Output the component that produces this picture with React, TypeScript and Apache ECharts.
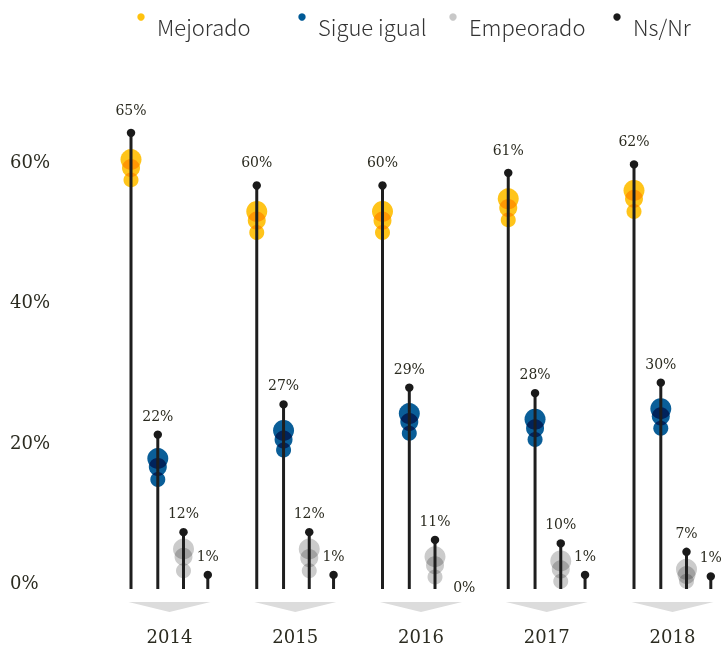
import React, { useEffect, useRef } from "react";
import * as echarts from "echarts";

const YEARS = ["2014", "2015", "2016", "2017", "2018"];
const CATEGORIES = ["Mejorado", "Sigue igual", "Empeorado", "Ns/Nr"];

// stem heights (% on the axis)
const MEJORADO = [65.0, 57.5, 57.5, 59.3, 60.5];
const SIGUE_IGUAL = [22.0, 26.3, 28.7, 27.9, 29.4];
const EMPEORADO = [8.1, 8.1, 7.0, 6.5, 5.3];
const NS_NR = [2.0, 2.0, 0, 2.0, 1.8];

// printed labels
const MEJORADO_LABELS = ["65%", "60%", "60%", "61%", "62%"];
const SIGUE_IGUAL_LABELS = ["22%", "27%", "29%", "28%", "30%"];
const EMPEORADO_LABELS = ["12%", "12%", "11%", "10%", "7%"];
const NS_NR_LABELS = ["1%", "1%", "0%", "1%", "1%"];

// bubble values (large, middle, small) per year
const MEJORADO_BUBBLES = [
  [61.2, 60.0, 58.3],
  [53.8, 52.5, 50.8],
  [53.8, 52.5, 50.8],
  [55.6, 54.3, 52.6],
  [56.8, 55.6, 53.8],
];
const SIGUE_IGUAL_BUBBLES = [
  [18.6, 17.4, 15.6],
  [22.6, 21.3, 19.8],
  [25.0, 23.8, 22.2],
  [24.2, 22.9, 21.3],
  [25.7, 24.6, 22.9],
];
const EMPEORADO_BUBBLES = [
  [5.7, 4.6, 2.6],
  [5.7, 4.4, 2.6],
  [4.6, 3.4, 1.7],
  [4.0, 2.8, 1.1],
  [2.8, 2.0, 1.1],
];
const NS_NR_BUBBLES = [[], [], [], [], []];

const Y_TICKS = [0, 20, 40, 60];

const STEMS = [MEJORADO, SIGUE_IGUAL, EMPEORADO, NS_NR];
const LABELS = [MEJORADO_LABELS, SIGUE_IGUAL_LABELS, EMPEORADO_LABELS, NS_NR_LABELS];
const BUBBLES = [MEJORADO_BUBBLES, SIGUE_IGUAL_BUBBLES, EMPEORADO_BUBBLES, NS_NR_BUBBLES];

const BUBBLE_COLORS = ["#ffc41a", "#0a5e98", "#cbcbcb", "#1a1a1a"];
const LEGEND_COLORS = ["#FFC20E", "#005A96", "#C8C8C8", "#1a1a1a"];
const OFFSETS = [-38.5, -11.7, 14, 38.3];
const LABEL_GAP = [23, 19, 19, 19];
const RADII = [10.5, 9, 7.5];
const SERIF = "'DejaVu Serif', serif";
const SANS = "'Noto Sans CJK JP', 'Noto Sans', sans-serif";
const TEXT_COLOR = "#2b2b20";

export default function App() {
  const ref = useRef<HTMLDivElement>(null);
  useEffect(() => {
    if (!ref.current) return;
    const el = ref.current;
    const chart = echarts.init(el, undefined, { renderer: "svg" });

    const legendX = [141, 302, 453, 617];
    const graphic: any[] = [];
    CATEGORIES.forEach((c, k) => {
      graphic.push({
        type: "circle",
        shape: { cx: legendX[k], cy: 17, r: 3.7 },
        style: { fill: LEGEND_COLORS[k] },
      });
      graphic.push({
        type: "text",
        x: legendX[k] + 16,
        y: 26,
        style: {
          text: c,
          fill: "#333",
          font: `300 22px ${SANS}`,
          verticalAlign: "middle",
          align: "left",
        },
      });
    });

    const option: any = {
      animation: false,
      backgroundColor: "#fff",
      grid: { left: 169.5, right: 48.5, top: 27.6, bottom: 55 },
      xAxis: {
        type: "category",
        data: YEARS,
        boundaryGap: false,
        axisLine: { show: false },
        axisTick: { show: false },
        splitLine: { show: false },
        axisLabel: {
          margin: 38,
          fontFamily: SERIF,
          fontSize: 18,
          color: TEXT_COLOR,
        },
      },
      yAxis: {
        type: "value",
        min: 0,
        max: 80,
        interval: 20,
        axisLine: { show: false },
        axisTick: { show: false },
        splitLine: { show: false },
        axisLabel: {
          align: "left",
          margin: 159.5,
          verticalAlign: "bottom",
          lineHeight: 13,
          fontFamily: SERIF,
          fontSize: 18,
          color: TEXT_COLOR,
          formatter: (v: number) => (Y_TICKS.includes(v) ? v + "%" : ""),
        },
      },
      graphic,
      series: [
        {
          type: "custom",
          clip: false,
          data: YEARS.map((y, i) => [i, 0]),
          renderItem: (params: any, api: any) => {
            const i = params.dataIndex;
            const base = api.coord([i, 0]);
            const cx = base[0];
            const y0 = base[1];
            const children: any[] = [];
            children.push({
              type: "polygon",
              shape: {
                points: [
                  [cx - 41, y0 + 13],
                  [cx + 41, y0 + 13],
                  [cx, y0 + 23],
                ],
              },
              style: { fill: "#dcdcdc" },
            });
            STEMS.forEach((arr, k) => {
              const v = arr[i];
              const sx = cx + OFFSETS[k];
              const top = api.coord([i, v])[1];
              const bubbles = BUBBLES[k][i];
              bubbles.forEach((bv: number, b: number) => {
                const by = api.coord([i, bv])[1];
                children.push({
                  type: "circle",
                  shape: { cx: sx, cy: by, r: RADII[b] },
                  style: { fill: BUBBLE_COLORS[k] },
                });
              });
              if (v > 0) {
                children.push({
                  type: "line",
                  shape: { x1: sx, y1: y0, x2: sx, y2: top },
                  style: { stroke: "#1e1e1e", lineWidth: 3 },
                });
                children.push({
                  type: "circle",
                  shape: { cx: sx, cy: top, r: 4.2 },
                  style: { fill: "#1a1a1a" },
                });
              }
              children.push({
                type: "text",
                x: v > 0 ? sx : sx + 5,
                y: v > 0 ? top - LABEL_GAP[k] : y0 - 2,
                style: {
                  text: LABELS[k][i],
                  fill: TEXT_COLOR,
                  font: `14px ${SERIF}`,
                  align: "center",
                  verticalAlign: "middle",
                },
              });
            });
            return { type: "group", children };
          },
        },
      ],
    };

    const blendTargets = BUBBLE_COLORS.slice(0, 3).map((c) => c.toLowerCase());
    const applyBlend = () => {
      const nodes = el.querySelectorAll("[fill]");
      nodes.forEach((n: any) => {
        const f = (n.getAttribute("fill") || "").toLowerCase();
        if (blendTargets.includes(f)) n.style.mixBlendMode = "multiply";
      });
    };
    chart.on("finished", applyBlend);
    chart.setOption(option);
    applyBlend();
    return () => chart.dispose();
  }, []);

  return (
    <div
      ref={ref}
      style={{ position: "absolute", left: 0, top: 0, width: 721, height: 645 }}
    />
  );
}
